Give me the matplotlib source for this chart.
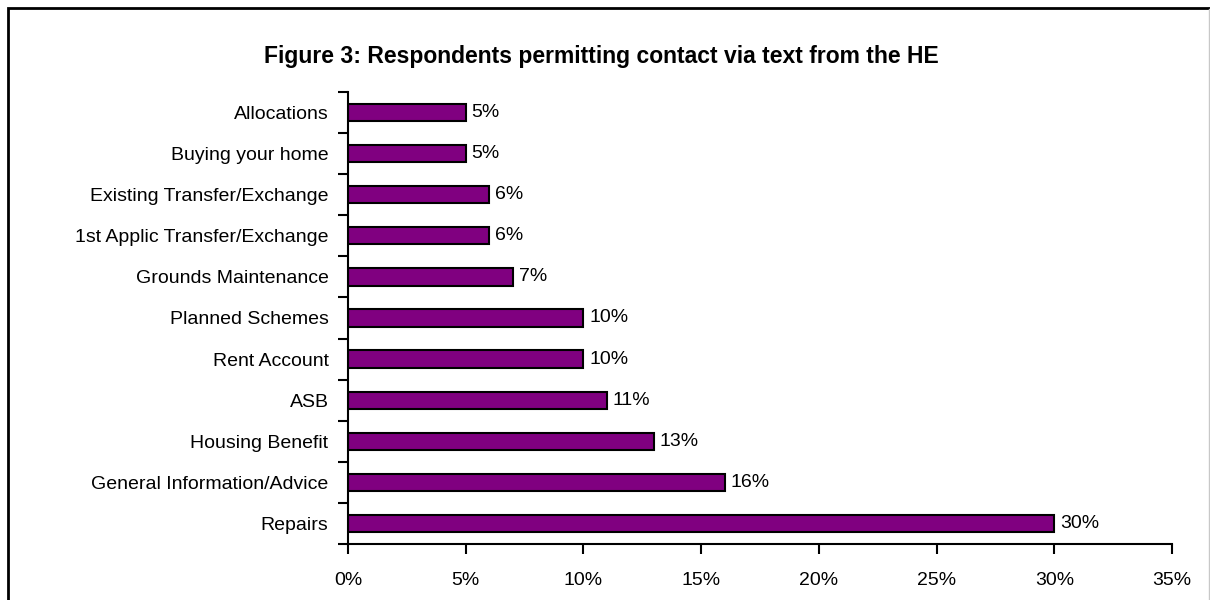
import matplotlib
matplotlib.use("Agg")
import matplotlib.pyplot as plt
from matplotlib.patches import Rectangle
import numpy as np

categories = [
    "Allocations",
    "Buying your home",
    "Existing Transfer/Exchange",
    "1st Applic Transfer/Exchange",
    "Grounds Maintenance",
    "Planned Schemes",
    "Rent Account",
    "ASB",
    "Housing Benefit",
    "General Information/Advice",
    "Repairs",
]
values = [5, 5, 6, 6, 7, 10, 10, 11, 13, 16, 30]
xticks = [0, 5, 10, 15, 20, 25, 30, 35]
title = "Figure 3: Respondents permitting contact via text from the HE"

plt.rcParams["font.family"] = ["Liberation Sans", "DejaVu Sans"]

W, H = 1210, 600
fig = plt.figure(figsize=(W / 100, H / 100), dpi=100)
fig.patch.set_facecolor("white")

# outer chart frame (bottom edge falls outside the canvas)
fig.patches.append(Rectangle((8 / W, -0.05), 1.2, 1 - 8 / H + 0.05,
                             transform=fig.transFigure, fill=False,
                             edgecolor="black", linewidth=2))
fig.add_artist(plt.Line2D([1208.5 / W, 1208.5 / W], [0, 1 - 9 / H],
                          transform=fig.transFigure, color="#c8c8c8", linewidth=1))

left, right = 348, 1172
top, bottom = 92, 544
ax = fig.add_axes([left / W, 1 - bottom / H, (right - left) / W, (bottom - top) / H])

n = len(categories)
pos = np.arange(n)
ax.barh(pos, values, height=0.42, color="#800080", edgecolor="black", linewidth=1.5)

ax.set_ylim(n - 0.5, -0.5)
ax.set_xlim(0, 35)

for spine in ("top", "right"):
    ax.spines[spine].set_visible(False)
for spine in ("left", "bottom"):
    ax.spines[spine].set_linewidth(1.5)

fs = 14
ax.set_yticks(pos)
ax.set_yticklabels(categories, fontsize=fs)
ax.set_yticks(np.arange(n + 1) - 0.5, minor=True)
ax.tick_params(axis="y", which="major", length=0, pad=14)
ax.tick_params(axis="y", which="minor", length=7, width=1.5, direction="out")

ax.set_xticks(xticks)
ax.set_xticklabels([f"{t}%" for t in xticks], fontsize=fs)
ax.tick_params(axis="x", which="major", length=7, width=1.5, direction="out", pad=13)

for p, v in zip(pos, values):
    ax.text(v + 0.25, p, f"{v}%", va="center", ha="left", fontsize=fs)

fig.text(601 / W, 1 - 57 / H, title, ha="center", va="center",
         fontsize=16.5, fontweight="bold")

fig.savefig("out.png", dpi=100)
